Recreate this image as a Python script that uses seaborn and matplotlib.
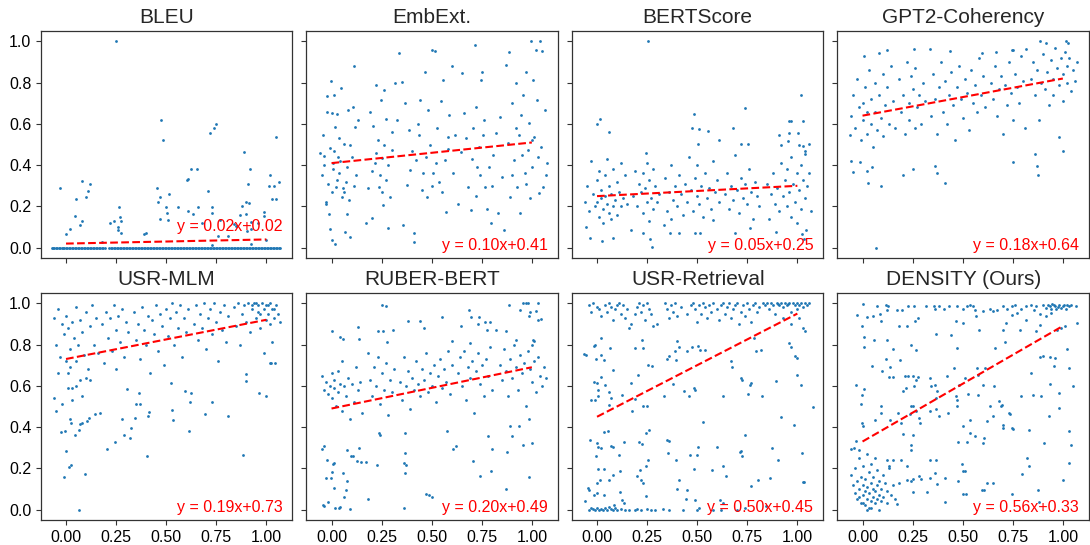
import matplotlib
matplotlib.use("Agg")
import matplotlib.pyplot as plt
import seaborn as sns
import pandas as pd

# panel titles and the fitted lines printed in each panel
titles = ['BLEU', 'EmbExt.', 'BERTScore', 'GPT2-Coherency',
          'USR-MLM', 'RUBER-BERT', 'USR-Retrieval', 'DENSITY (Ours)']
slopes = [0.02, 0.10, 0.05, 0.18, 0.19, 0.20, 0.50, 0.56]
intercepts = [0.02, 0.41, 0.25, 0.64, 0.73, 0.49, 0.45, 0.33]
x_ticks = [0.0, 0.25, 0.5, 0.75, 1.0]
y_ticks = [0.0, 0.2, 0.4, 0.6, 0.8, 1.0]

#%% points (x, y)
bleu_zero_x = [-0.07, -0.064, -0.058, -0.05, -0.044, -0.037, -0.03, -0.022, -0.015, -0.008,
               0.0, 0.007, 0.014, 0.021, 0.029, 0.036, 0.044, 0.051, 0.058, 0.066, 0.073,
               0.081, 0.088, 0.095, 0.103, 0.11, 0.118, 0.126, 0.133, 0.141, 0.148, 0.156,
               0.163, 0.171, 0.178, 0.186, 0.193, 0.215, 0.222, 0.23, 0.237, 0.245, 0.252,
               0.26, 0.267, 0.275, 0.282, 0.29, 0.297, 0.305, 0.312, 0.32, 0.327, 0.335,
               0.342, 0.35, 0.357, 0.365, 0.372, 0.38, 0.387, 0.395, 0.402, 0.41, 0.417,
               0.425, 0.432, 0.44, 0.447, 0.455, 0.462, 0.47, 0.477, 0.485, 0.492, 0.5,
               0.507, 0.515, 0.522, 0.53, 0.537, 0.545, 0.552, 0.56, 0.567, 0.575, 0.582,
               0.59, 0.597, 0.605, 0.612, 0.62, 0.627, 0.635, 0.642, 0.65, 0.657, 0.665,
               0.672, 0.68, 0.687, 0.695, 0.702, 0.71, 0.717, 0.725, 0.732, 0.74, 0.747,
               0.755, 0.762, 0.77, 0.777, 0.785, 0.792, 0.8, 0.807, 0.815, 0.822, 0.83,
               0.837, 0.845, 0.852, 0.86, 0.867, 0.875, 0.882, 0.89, 0.897, 0.905, 0.912,
               0.92, 0.927, 0.935, 0.942, 0.95, 0.957, 0.965, 0.972, 0.98, 0.987, 0.995,
               1.002, 1.01, 1.017, 1.025, 1.032, 1.04, 1.047, 1.055, 1.062, 1.07]
bleu_pts = [(-0.03, 0.29), (0.0, 0.065), (0.02, 0.09), (0.045, 0.155), (0.05, 0.235),
            (0.07, 0.11), (0.08, 0.325), (0.08, 0.13), (0.1, 0.245), (0.11, 0.275),
            (0.12, 0.31), (0.18, 0.03), (0.22, 0.12), (0.24, 0.13), (0.25, 1.0),
            (0.26, 0.1), (0.265, 0.195), (0.27, 0.15), (0.275, 0.13), (0.26, 0.085),
            (0.275, 0.07), (0.39, 0.065), (0.4, 0.07), (0.455, 0.29), (0.46, 0.22),
            (0.47, 0.245), (0.47, 0.14), (0.475, 0.62), (0.485, 0.52), (0.5, 0.195),
            (0.505, 0.17), (0.51, 0.135), (0.515, 0.26), (0.56, 0.195), (0.605, 0.33),
            (0.61, 0.335), (0.61, 0.18), (0.625, 0.38), (0.635, 0.165), (0.655, 0.38),
            (0.66, 0.195), (0.68, 0.12), (0.71, 0.275), (0.72, 0.555), (0.728, 0.195),
            (0.73, 0.17), (0.73, 0.015), (0.74, 0.58), (0.75, 0.6), (0.76, 0.055),
            (0.77, 0.135), (0.81, 0.055), (0.84, 0.115), (0.85, 0.105), (0.87, 0.16),
            (0.88, 0.2), (0.89, 0.465), (0.9, 0.22), (0.9, 0.165), (0.91, 0.31),
            (0.905, 0.08), (0.915, 0.215), (0.92, 0.38), (0.925, 0.125), (0.925, 0.09),
            (0.925, 0.02), (0.96, 0.12), (0.99, 0.175), (0.99, 0.155), (1.0, 0.035),
            (1.015, 0.3), (1.02, 0.35), (1.03, 0.235), (1.04, 0.3), (1.05, 0.535),
            (1.05, 0.235), (1.065, 0.32)]

embext_pts = [(-0.056, 0.46), (-0.05, 0.35), (-0.045, 0.545), (-0.036, 0.445), (-0.03, 0.22),
              (-0.03, 0.21), (-0.023, 0.733), (-0.023, 0.66), (-0.015, 0.165), (-0.01, 0.485),
              (-0.007, 0.09), (-0.003, 0.81), (0.0, 0.655), (0.003, 0.037), (0.005, 0.38),
              (0.008, 0.41), (0.013, 0.74), (0.017, 0.585), (0.018, 0.02), (0.02, 0.295),
              (0.026, 0.65), (0.03, 0.44), (0.035, 0.53), (0.038, 0.36), (0.046, 0.775),
              (0.05, 0.247), (0.055, 0.29), (0.063, 0.505), (0.068, 0.077), (0.071, 0.32),
              (0.076, 0.165), (0.083, 0.667), (0.088, 0.23), (0.093, 0.05), (0.1, 0.44),
              (0.107, 0.68), (0.112, 0.882), (0.116, 0.585), (0.124, 0.352), (0.13, 0.62),
              (-0.04, 0.4), (-0.02, 0.31), (0.0, 0.27), (0.01, 0.47), (0.025, 0.33),
              (0.04, 0.42), (0.06, 0.27), (0.075, 0.39), (0.09, 0.5), (0.11, 0.3),
              (0.17, 0.118), (0.182, 0.29), (0.19, 0.66), (0.2, 0.142), (0.208, 0.59),
              (0.215, 0.41), (0.223, 0.79), (0.23, 0.52), (0.238, 0.292), (0.245, 0.716),
              (0.253, 0.433), (0.258, 0.208), (0.264, 0.764), (0.27, 0.622), (0.274, 0.328),
              (0.283, 0.094), (0.29, 0.247), (0.302, 0.473), (0.319, 0.8), (0.337, 0.942),
              (0.327, 0.62), (0.2, 0.37), (0.22, 0.46), (0.24, 0.35), (0.26, 0.5),
              (0.28, 0.4), (0.3, 0.56), (0.25, 0.27),
              (0.352, 0.805), (0.357, 0.11), (0.368, 0.7), (0.377, 0.304), (0.385, 0.57),
              (0.393, 0.376), (0.41, 0.07), (0.413, 0.029), (0.423, 0.425), (0.435, 0.546),
              (0.443, 0.716), (0.456, 0.36), (0.468, 0.853), (0.476, 0.247), (0.484, 0.667),
              (0.493, 0.5), (0.5, 0.958), (0.509, 0.36), (0.517, 0.955), (0.526, 0.578),
              (0.534, 0.32), (0.545, 0.712), (0.555, 0.813), (0.564, 0.425), (0.572, 0.175),
              (0.579, 0.538), (0.588, 0.643), (0.6, 0.88), (0.608, 0.36), (0.617, 0.546),
              (0.4, 0.47), (0.45, 0.28), (0.47, 0.44), (0.52, 0.41), (0.55, 0.27),
              (0.58, 0.48), (0.43, 0.6), (0.5, 0.3),
              (0.633, 0.212), (0.645, 0.465), (0.65, 0.845), (0.661, 0.651), (0.671, 0.53),
              (0.683, 0.296), (0.694, 0.183), (0.704, 0.578), (0.716, 0.984), (0.721, 0.683),
              (0.727, 0.393), (0.737, 0.49), (0.745, 0.813), (0.749, 0.853), (0.757, 0.546),
              (0.765, 0.296), (0.774, 0.19), (0.787, 0.393), (0.798, 0.121), (0.807, 0.45),
              (0.82, 0.554), (0.831, 0.166), (0.84, 0.635), (0.853, 0.344), (0.86, 0.086),
              (0.873, 0.885), (0.886, 0.947), (0.7, 0.43), (0.74, 0.35), (0.76, 0.62),
              (0.8, 0.3), (0.72, 0.25),
              (0.881, 0.506), (0.893, 0.247), (0.902, 0.7), (0.909, 0.425), (0.919, 0.8),
              (0.926, 0.296), (0.936, 0.546), (0.939, 0.166), (0.947, 0.643), (0.955, 0.74),
              (0.964, 0.36), (0.972, 0.853), (0.98, 0.473), (0.985, 0.603), (0.992, 0.239),
              (0.997, 1.0), (1.002, 0.393), (1.008, 0.813), (1.013, 0.535), (1.021, 0.958),
              (1.025, 0.716), (1.035, 0.263), (1.041, 1.0), (1.046, 0.49), (1.051, 0.955),
              (1.058, 0.296), (1.068, 0.667), (1.071, 0.352), (1.074, 0.412), (0.9, 0.35),
              (0.95, 0.45), (0.97, 0.31), (1.0, 0.52), (1.03, 0.44), (0.92, 0.58)]

bertscore_pts = [(0.254, 1.0), (0.0, 0.6), (0.015, 0.622), (0.061, 0.562), (0.482, 0.648),
                 (0.474, 0.578), (0.507, 0.574), (0.556, 0.567), (0.741, 0.675), (0.677, 0.578),
                 (1.018, 0.74), (0.96, 0.615), (0.969, 0.615), (1.03, 0.615), (1.005, 0.554),
                 (0.96, 0.554), (0.908, 0.546), (0.721, 0.502), (0.754, 0.502), (0.502, 0.502),
                 (0.243, 0.457), (0.611, 0.522), (0.919, 0.498), (0.952, 0.519), (1.01, 0.498),
                 (1.06, 0.502), (1.04, 0.454), (1.03, 0.493),
                 (-0.054, 0.102), (-0.033, 0.048), (0.023, 0.034), (0.078, 0.048), (0.172, 0.086),
                 (0.231, 0.073), (0.276, 0.002), (0.262, 0.04), (0.333, 0.11), (0.366, 0.069),
                 (0.408, 0.069), (0.49, 0.069), (0.515, 0.069), (0.581, 0.134), (0.691, 0.069),
                 (0.766, 0.094), (0.894, 0.078), (1.023, 0.065), (1.035, 0.04), (1.043, 0.086),
                 (-0.06, 0.22), (-0.05, 0.3), (-0.04, 0.18), (-0.03, 0.42), (-0.02, 0.26),
                 (-0.01, 0.2), (0.0, 0.33), (0.0, 0.22), (0.01, 0.15), (0.01, 0.37),
                 (0.02, 0.24), (0.02, 0.28), (0.03, 0.19), (0.03, 0.12), (0.04, 0.35),
                 (0.04, 0.25), (0.05, 0.21), (0.05, 0.43), (0.06, 0.17), (0.06, 0.3),
                 (0.07, 0.14), (0.07, 0.26), (0.08, 0.38), (0.08, 0.2), (0.09, 0.23),
                 (0.1, 0.32), (0.1, 0.16), (0.11, 0.27), (0.12, 0.41), (0.12, 0.2),
                 (0.13, 0.24), (0.14, 0.35), (0.15, 0.21),
                 (0.18, 0.25), (0.19, 0.37), (0.2, 0.2), (0.21, 0.31), (0.22, 0.27),
                 (0.23, 0.36), (0.23, 0.17), (0.24, 0.29), (0.25, 0.22), (0.25, 0.41),
                 (0.26, 0.33), (0.26, 0.13), (0.27, 0.24), (0.28, 0.38), (0.28, 0.19),
                 (0.29, 0.3), (0.3, 0.22), (0.31, 0.26),
                 (0.34, 0.34), (0.35, 0.18), (0.36, 0.27), (0.37, 0.4), (0.37, 0.14),
                 (0.38, 0.23), (0.39, 0.3), (0.4, 0.2), (0.41, 0.35), (0.42, 0.26),
                 (0.43, 0.16), (0.44, 0.31), (0.45, 0.22), (0.46, 0.44), (0.47, 0.28),
                 (0.48, 0.18), (0.49, 0.34), (0.5, 0.25), (0.5, 0.4), (0.51, 0.21),
                 (0.52, 0.3), (0.53, 0.15), (0.54, 0.36), (0.55, 0.24), (0.56, 0.29),
                 (0.57, 0.19), (0.58, 0.42), (0.59, 0.27), (0.6, 0.33), (0.61, 0.22),
                 (0.64, 0.26), (0.65, 0.36), (0.66, 0.19), (0.67, 0.3), (0.68, 0.23),
                 (0.69, 0.45), (0.7, 0.28), (0.71, 0.17), (0.72, 0.34), (0.73, 0.24),
                 (0.74, 0.31), (0.75, 0.21), (0.76, 0.38), (0.77, 0.27), (0.78, 0.14),
                 (0.79, 0.32), (0.8, 0.25), (0.81, 0.2),
                 (0.85, 0.31), (0.86, 0.14), (0.87, 0.26), (0.88, 0.36), (0.89, 0.21),
                 (0.9, 0.29), (0.91, 0.18), (0.92, 0.41), (0.93, 0.25), (0.94, 0.33),
                 (0.95, 0.2), (0.95, 0.38), (0.96, 0.27), (0.97, 0.15), (0.97, 0.44),
                 (0.98, 0.31), (0.99, 0.22), (1.0, 0.36), (1.0, 0.12), (1.01, 0.28),
                 (1.02, 0.4), (1.02, 0.19), (1.03, 0.33), (1.04, 0.24), (1.04, 0.47),
                 (1.05, 0.3), (1.06, 0.36), (1.07, 0.18)]

gpt2_pts = [(0.066, 0.0), (0.091, 0.3), (0.028, 0.315), (0.203, 0.352), (0.251, 0.38),
            (0.41, 0.312), (0.372, 0.36), (0.364, 0.396), (0.876, 0.352), (0.871, 0.396),
            (0.86, 0.454), (0.752, 0.417), (1.0, 0.47), (0.983, 0.538), (-0.05, 0.368),
            (-0.058, 0.422), (-0.063, 0.546), (0.021, 0.373), (0.045, 0.393), (-0.012, 0.417),
            (0.884, 1.0), (1.017, 1.0), (1.025, 0.994), (0.914, 0.99), (0.664, 0.95),
            (0.744, 0.958), (0.752, 0.958), (0.818, 0.963), (0.595, 0.945), (0.438, 0.955),
            (0.336, 0.961), (0.256, 0.961), (0.124, 0.958), (0.083, 0.942), (0.005, 0.929),
            (-0.06, 0.64), (-0.05, 0.74), (-0.04, 0.58), (-0.03, 0.82), (-0.02, 0.68),
            (-0.01, 0.52), (0.0, 0.7), (0.0, 0.62), (0.01, 0.78), (0.02, 0.55),
            (0.02, 0.66), (0.03, 0.86), (0.04, 0.6), (0.04, 0.72), (0.05, 0.49),
            (0.06, 0.8), (0.06, 0.66), (0.07, 0.57), (0.08, 0.74), (0.09, 0.63),
            (0.1, 0.84), (0.1, 0.54), (0.11, 0.69), (0.12, 0.78), (0.13, 0.6),
            (0.14, 0.88), (0.15, 0.71), (0.16, 0.58),
            (0.18, 0.82), (0.19, 0.66), (0.2, 0.74), (0.21, 0.55), (0.22, 0.9),
            (0.23, 0.7), (0.23, 0.62), (0.24, 0.83), (0.25, 0.77), (0.26, 0.58),
            (0.26, 0.87), (0.27, 0.68), (0.28, 0.74), (0.29, 0.6), (0.3, 0.8),
            (0.31, 0.71),
            (0.34, 0.64), (0.35, 0.84), (0.36, 0.72), (0.37, 0.55), (0.38, 0.78),
            (0.39, 0.9), (0.4, 0.66), (0.41, 0.81), (0.42, 0.6), (0.43, 0.74),
            (0.44, 0.85), (0.45, 0.69), (0.46, 0.52), (0.47, 0.78), (0.48, 0.88),
            (0.49, 0.72), (0.5, 0.63), (0.51, 0.82), (0.52, 0.75), (0.53, 0.57),
            (0.54, 0.86), (0.55, 0.7), (0.56, 0.79), (0.57, 0.66), (0.58, 0.92),
            (0.59, 0.74), (0.6, 0.83), (0.61, 0.68),
            (0.64, 0.8), (0.65, 0.72), (0.66, 0.88), (0.67, 0.64), (0.68, 0.77),
            (0.69, 0.83), (0.7, 0.55), (0.71, 0.79), (0.72, 0.69), (0.73, 0.9),
            (0.74, 0.75), (0.75, 0.62), (0.76, 0.84), (0.77, 0.78), (0.78, 0.7),
            (0.79, 0.93), (0.8, 0.81), (0.81, 0.58),
            (0.84, 0.82), (0.85, 0.9), (0.86, 0.74), (0.87, 0.86), (0.88, 0.62),
            (0.89, 0.8), (0.9, 0.94), (0.91, 0.77), (0.92, 0.85), (0.93, 0.69),
            (0.94, 0.91), (0.95, 0.82), (0.95, 0.74), (0.96, 0.97), (0.97, 0.87),
            (0.98, 0.79), (0.99, 0.92), (1.0, 0.84), (1.0, 0.71), (1.01, 0.95),
            (1.02, 0.88), (1.02, 0.8), (1.03, 0.92), (1.04, 0.76), (1.05, 0.86),
            (1.06, 0.81), (1.07, 0.9)]

usrmlm_pts = [(0.063, 0.0), (-0.012, 0.159), (0.025, 0.214), (0.013, 0.207), (0.0, 0.283),
              (0.093, 0.175), (-0.025, 0.375), (-0.003, 0.38), (0.027, 0.42), (0.021, 0.44),
              (0.043, 0.364), (0.063, 0.388), (0.071, 0.413), (0.08, 0.421), (0.104, 0.429),
              (0.113, 0.445), (0.146, 0.461), (0.171, 0.469), (0.204, 0.294), (0.245, 0.327),
              (0.287, 0.361), (0.279, 0.437), (0.32, 0.345), (0.325, 0.396), (0.303, 0.583),
              (0.362, 0.566), (0.35, 0.51), (0.37, 0.51), (0.345, 0.445), (0.403, 0.262),
              (0.416, 0.472), (0.411, 0.456), (0.527, 0.485), (0.532, 0.434), (0.524, 0.615),
              (0.594, 0.574), (0.614, 0.383), (0.619, 0.521), (0.624, 0.563), (0.693, 0.464),
              (0.73, 0.521), (0.809, 0.453), (0.881, 0.267), (0.963, 0.566), (1.0, 0.55),
              (0.9, 0.623), (0.9, 0.655), (1.041, 0.712), (1.017, 0.712), (1.025, 0.709),
              (-0.06, 0.54), (-0.05, 0.48), (-0.04, 0.66), (-0.02, 0.51), (0.01, 0.59),
              (0.03, 0.53), (0.05, 0.6), (0.08, 0.55), (0.1, 0.64), (0.12, 0.63),
              (-0.06, 0.93), (-0.05, 0.8), (-0.04, 0.97), (-0.03, 0.74), (-0.02, 0.9),
              (-0.01, 0.85), (0.0, 0.72), (0.0, 0.94), (0.01, 0.66), (0.01, 0.88),
              (0.02, 0.78), (0.02, 0.69), (0.03, 0.91), (0.03, 0.59), (0.04, 0.83),
              (0.05, 0.98), (0.05, 0.72), (0.06, 0.8), (0.07, 0.63), (0.07, 0.92),
              (0.08, 0.86), (0.09, 0.75), (0.1, 0.96), (0.11, 0.68), (0.12, 0.89),
              (0.13, 0.99), (0.14, 0.8), (0.15, 0.93), (0.16, 0.76),
              (0.18, 0.9), (0.19, 0.71), (0.2, 0.96), (0.21, 0.83), (0.22, 0.93),
              (0.23, 0.77), (0.24, 0.99), (0.25, 0.87), (0.25, 0.68), (0.26, 0.94),
              (0.27, 0.81), (0.28, 0.97), (0.29, 0.74), (0.3, 0.91), (0.31, 0.86),
              (0.34, 0.96), (0.35, 0.82), (0.36, 0.9), (0.37, 0.73), (0.38, 0.98),
              (0.39, 0.87), (0.4, 0.8), (0.41, 0.94), (0.42, 0.66), (0.43, 0.92),
              (0.44, 0.85), (0.45, 0.99), (0.46, 0.77), (0.47, 0.95), (0.48, 0.89),
              (0.49, 0.7), (0.5, 0.97), (0.51, 0.84), (0.52, 0.93), (0.53, 1.0),
              (0.54, 0.8), (0.55, 0.96), (0.56, 0.88), (0.57, 0.99), (0.58, 0.74),
              (0.59, 0.93), (0.6, 0.86), (0.61, 0.97),
              (0.64, 0.9), (0.65, 0.99), (0.66, 0.82), (0.67, 0.95), (0.68, 0.88),
              (0.69, 1.0), (0.7, 0.78), (0.71, 0.93), (0.72, 0.97), (0.73, 0.85),
              (0.74, 1.0), (0.75, 0.91), (0.76, 0.72), (0.77, 0.96), (0.78, 0.87),
              (0.79, 0.99), (0.8, 0.81), (0.81, 0.94),
              (0.84, 0.98), (0.85, 0.89), (0.86, 1.0), (0.87, 0.8), (0.88, 0.95),
              (0.89, 0.99), (0.9, 0.91), (0.91, 1.0), (0.92, 0.86), (0.93, 0.97),
              (0.94, 1.0), (0.95, 0.93), (0.96, 0.99), (0.97, 0.95), (0.97, 0.88),
              (0.98, 1.0), (0.99, 0.97), (1.0, 0.92), (1.0, 0.99), (1.01, 0.95),
              (1.02, 1.0), (1.02, 0.9), (1.03, 0.97), (1.04, 0.93), (1.05, 0.99),
              (1.06, 0.95), (1.07, 0.91), (1.03, 0.81), (0.99, 0.76), (0.95, 1.0),
              (0.96, 0.96), (1.01, 0.99), (0.93, 0.99), (1.04, 0.97)]

ruber_pts = [(-0.045, 0.024), (-0.036, 0.019), (-0.02, 0.036), (0.018, 0.008), (0.035, 0.008),
             (0.043, 0.011), (0.093, 0.003), (0.063, 0.061), (0.071, 0.097), (0.013, 0.105),
             (0.076, 0.137), (0.055, 0.178), (-0.003, 0.153), (-0.028, 0.153), (0.002, 0.181),
             (0.005, 0.223), (0.01, 0.226), (-0.023, 0.242), (-0.048, 0.296), (-0.036, 0.307),
             (0.079, 0.288), (0.099, 0.258), (0.107, 0.258), (0.137, 0.299), (0.129, 0.234),
             (0.149, 0.229), (0.17, 0.229), (0.228, 0.215), (0.182, 0.052), (0.236, 0.372),
             (0.241, 0.363), (0.36, 0.008), (0.369, 0.178), (0.36, 0.226), (0.374, 0.218),
             (0.369, 0.275), (0.369, 0.372), (0.471, 0.076), (0.488, 0.073), (0.504, 0.061),
             (0.575, 0.38), (0.607, 0.294), (0.623, 0.307), (0.704, 0.237), (0.74, 0.162),
             (0.782, 0.355), (0.795, 0.186), (0.802, 0.296), (0.876, 0.278), (0.873, 0.1),
             (0.902, 0.359), (0.955, 0.315), (0.985, 0.158), (1.002, 0.323), (0.889, 0.407),
             (0.936, 0.404), (0.988, 0.439),
             (0.253, 0.994), (0.273, 0.985), (0.0, 0.868), (0.043, 0.837), (0.055, 0.829),
             (0.132, 0.885), (0.137, 0.829), (0.233, 0.868), (0.258, 0.868), (0.278, 0.813),
             (0.306, 0.872), (0.38, 0.913), (0.443, 0.913), (0.463, 0.88), (0.55, 0.934),
             (0.686, 0.966), (0.694, 0.934), (0.732, 0.901), (0.737, 0.934), (0.765, 0.91),
             (0.793, 0.91), (0.884, 0.994), (0.939, 0.969), (0.955, 1.0), (0.972, 1.0),
             (0.98, 1.0), (1.03, 1.0), (1.021, 0.961), (1.03, 0.921), (1.046, 0.924),
             (0.985, 0.937), (0.992, 0.956), (1.005, 0.824), (1.013, 0.816), (0.922, 0.824),
             (0.873, 0.864), (0.823, 0.872), (0.774, 0.872), (0.646, 0.888), (0.6, 0.816),
             (0.691, 0.808),
             (-0.05, 0.65), (-0.04, 0.58), (-0.03, 0.62), (-0.02, 0.56), (-0.01, 0.6),
             (0.0, 0.66), (0.0, 0.54), (0.01, 0.59), (0.01, 0.63), (0.02, 0.5),
             (0.03, 0.67), (0.03, 0.57), (0.04, 0.61), (0.05, 0.72), (0.05, 0.48),
             (0.06, 0.6), (0.07, 0.55), (0.08, 0.64), (0.09, 0.44), (0.1, 0.61),
             (0.11, 0.52), (0.12, 0.69), (0.13, 0.58), (0.14, 0.62), (0.15, 0.47),
             (0.18, 0.76), (0.19, 0.63), (0.2, 0.55), (0.21, 0.69), (0.22, 0.6),
             (0.23, 0.74), (0.24, 0.51), (0.25, 0.66), (0.26, 0.58), (0.27, 0.71),
             (0.28, 0.46), (0.29, 0.63), (0.3, 0.57), (0.31, 0.68),
             (0.34, 0.62), (0.35, 0.53), (0.36, 0.74), (0.37, 0.6), (0.38, 0.67),
             (0.39, 0.49), (0.4, 0.64), (0.41, 0.58), (0.42, 0.72), (0.43, 0.61),
             (0.44, 0.55), (0.45, 0.68), (0.46, 0.63), (0.47, 0.76), (0.48, 0.57),
             (0.49, 0.66), (0.5, 0.6), (0.51, 0.7), (0.52, 0.52), (0.53, 0.65),
             (0.54, 0.73), (0.55, 0.59), (0.56, 0.68), (0.57, 0.62), (0.58, 0.77),
             (0.59, 0.56), (0.6, 0.7),
             (0.63, 0.66), (0.64, 0.74), (0.65, 0.6), (0.66, 0.77), (0.67, 0.53),
             (0.68, 0.69), (0.69, 0.64), (0.7, 0.72), (0.71, 0.47), (0.72, 0.67),
             (0.73, 0.76), (0.74, 0.61), (0.75, 0.7), (0.76, 0.55), (0.77, 0.73),
             (0.78, 0.65), (0.79, 0.79), (0.8, 0.58),
             (0.84, 0.7), (0.85, 0.63), (0.86, 0.78), (0.87, 0.67), (0.88, 0.55),
             (0.89, 0.73), (0.9, 0.64), (0.91, 0.8), (0.92, 0.69), (0.93, 0.58),
             (0.94, 0.75), (0.95, 0.66), (0.96, 0.71), (0.97, 0.5), (0.98, 0.77),
             (0.99, 0.68), (1.0, 0.62), (1.0, 0.8), (1.01, 0.72), (1.02, 0.57),
             (1.03, 0.74), (1.04, 0.65), (1.05, 0.6), (1.06, 0.69), (1.07, 0.64)]

retrieval_pts = [(-0.04, 0.99), (-0.03, 0.96), (-0.02, 1.0), (0.0, 0.98), (0.01, 0.97),
                 (0.02, 0.94), (0.04, 0.99), (0.05, 0.96), (0.06, 1.0), (0.07, 0.98),
                 (0.08, 0.92), (0.09, 0.97), (0.1, 0.99), (0.11, 1.0), (0.12, 0.95),
                 (0.13, 0.99), (0.14, 0.93), (0.15, 0.97), (0.16, 0.88), (0.17, 0.9),
                 (0.19, 0.95), (0.2, 0.98), (0.21, 1.0), (0.22, 0.96), (0.23, 0.99),
                 (0.24, 0.92), (0.25, 1.0), (0.26, 0.97), (0.27, 0.95), (0.28, 0.89),
                 (0.3, 0.9), (0.34, 1.0), (0.35, 0.97), (0.36, 0.93), (0.37, 0.99),
                 (0.38, 0.96), (0.39, 1.0), (0.4, 0.94), (0.42, 0.98), (0.45, 0.95),
                 (0.47, 0.99), (0.48, 1.0), (0.49, 0.97), (0.5, 0.91), (0.51, 0.99),
                 (0.52, 0.95), (0.53, 1.0), (0.54, 0.98), (0.55, 0.93), (0.56, 0.99),
                 (0.57, 0.96), (0.58, 1.0), (0.6, 0.97), (0.61, 0.92), (0.62, 0.99),
                 (0.63, 1.0), (0.64, 0.95), (0.65, 0.98), (0.66, 1.0), (0.67, 0.93),
                 (0.68, 0.97), (0.69, 0.99), (0.7, 1.0), (0.71, 0.9), (0.72, 0.96),
                 (0.73, 0.99), (0.74, 0.94), (0.75, 1.0), (0.76, 0.97), (0.77, 0.91),
                 (0.78, 0.99), (0.79, 1.0), (0.8, 0.96), (0.81, 0.98), (0.83, 1.0),
                 (0.84, 0.99), (0.85, 1.0), (0.86, 0.97), (0.87, 1.0), (0.88, 0.99),
                 (0.89, 0.95), (0.9, 1.0), (0.91, 0.99), (0.92, 1.0), (0.93, 0.98),
                 (0.94, 1.0), (0.95, 0.99), (0.96, 1.0), (0.97, 0.96), (0.98, 1.0),
                 (0.99, 0.99), (1.0, 1.0), (1.0, 0.97), (1.01, 0.99), (1.02, 1.0),
                 (1.03, 0.98), (1.04, 1.0), (1.05, 0.99), (1.06, 1.0), (0.93, 0.93),
                 (0.97, 0.9), (1.01, 0.93), (1.03, 0.88), (0.905, 0.995), (0.955, 0.995),
                 (-0.054, 0.751), (-0.063, 0.756), (-0.008, 0.8), (-0.013, 0.792), (0.02, 0.832),
                 (-0.003, 0.732), (0.02, 0.75), (0.033, 0.724), (0.066, 0.784), (0.078, 0.679),
                 (0.02, 0.641), (-0.013, 0.617), (0.0, 0.614), (0.003, 0.582), (0.041, 0.606),
                 (-0.03, 0.533), (-0.008, 0.533), (0.003, 0.549), (0.061, 0.569), (0.069, 0.541),
                 (0.058, 0.509), (0.127, 0.557), (0.172, 0.614), (0.205, 0.654), (0.173, 0.477),
                 (0.231, 0.501), (0.248, 0.501), (0.188, 0.536), (0.188, 0.784), (0.231, 0.784),
                 (0.226, 0.824), (0.256, 0.703), (0.272, 0.698), (0.333, 0.549), (0.38, 0.611),
                 (0.399, 0.819), (0.411, 0.787), (0.391, 0.767), (0.358, 0.746), (0.347, 0.73),
                 (0.394, 0.727), (0.449, 0.767), (0.474, 0.788), (0.503, 0.792), (0.515, 0.772),
                 (0.54, 0.772), (0.432, 0.574), (0.457, 0.549), (0.482, 0.59), (0.49, 0.578),
                 (0.63, 0.549), (0.667, 0.719), (0.673, 0.691), (0.721, 0.638), (0.726, 0.627),
                 (0.754, 0.562), (0.762, 0.606), (0.77, 0.614), (0.782, 0.832), (0.795, 0.767),
                 (0.82, 0.772), (0.891, 0.622), (0.825, 0.549), (0.96, 0.808), (0.969, 0.788),
                 (0.99, 0.746), (0.997, 0.735), (0.998, 0.654), (1.018, 0.606), (1.038, 0.864),
                 (1.076, 0.498), (0.919, 0.449), (0.985, 0.412), (0.903, 0.242), (1.023, 0.275),
                 (0.861, 0.153), (0.804, 0.145), (0.721, 0.283), (0.713, 0.278), (0.738, 0.363),
                 (0.726, 0.258), (0.875, 0.299), (0.767, 0.116), (0.627, 0.213), (0.644, 0.162),
                 (0.601, 0.302), (0.573, 0.192), (0.482, 0.197), (0.465, 0.267), (0.503, 0.304),
                 (0.498, 0.267), (0.528, 0.423), (0.393, 0.239), (0.355, 0.275), (0.347, 0.336),
                 (0.359, 0.331), (0.411, 0.145), (0.399, 0.1), (0.449, 0.097), (0.446, 0.052),
                 (0.49, 0.045), (0.507, 0.008), (0.614, 0.048), (0.63, 0.032), (0.738, 0.008),
                 (0.842, 0.016), (1.035, 0.132), (1.026, 0.132), (0.256, 0.239), (0.243, 0.213),
                 (0.218, 0.142), (0.231, 0.129), (0.243, 0.065), (0.259, 0.384), (0.243, 0.372),
                 (0.21, 0.326), (0.223, 0.318), (0.213, 0.191), (0.198, 0.162), (0.111, 0.267),
                 (0.116, 0.186), (0.135, 0.326), (0.078, 0.302), (0.069, 0.307), (0.033, 0.376),
                 (0.053, 0.38), (0.0, 0.323), (0.003, 0.304), (0.02, 0.299), (-0.005, 0.258),
                 (-0.033, 0.339), (0.007, 0.197), (0.036, 0.197), (0.017, 0.145), (0.061, 0.142),
                 (0.078, 0.17), (0.0, 0.129), (-0.043, 0.105), (-0.038, 0.094), (-0.017, 0.073),
                 (0.0, 0.081), (0.033, 0.073), (0.116, 0.084), (0.127, 0.045), (0.135, 0.032),
                 (0.083, 0.024),
                 (-0.06, 0.04), (-0.04, 0.0), (-0.03, 0.01), (-0.02, 0.005), (-0.01, 0.0),
                 (0.0, 0.01), (0.01, 0.0), (0.02, 0.005), (0.03, 0.0), (0.04, 0.01),
                 (0.05, 0.0), (0.06, 0.015), (0.07, 0.005), (0.08, 0.0), (0.09, 0.01),
                 (0.1, 0.0), (0.12, 0.005), (0.14, 0.0), (0.16, 0.0), (0.19, 0.0),
                 (0.2, 0.005), (0.22, 0.0), (0.25, 0.005), (0.27, 0.0), (0.29, 0.0),
                 (0.33, 0.005), (0.36, 0.0), (0.43, 0.0), (0.5, 0.0), (0.58, 0.0),
                 (0.62, 0.0), (0.7, 0.0)]

density_pts = [(0.0, 0.997), (-0.028, 0.945), (-0.003, 0.889), (0.021, 0.934), (0.05, 0.937),
               (0.074, 0.989), (0.088, 0.95), (0.091, 0.913), (0.116, 0.994), (0.127, 0.989),
               (0.121, 0.969), (0.17, 0.969), (0.198, 0.966), (0.228, 0.989), (0.22, 0.889),
               (0.256, 0.989), (0.276, 0.929), (0.264, 0.913), (0.319, 0.989), (0.355, 0.989),
               (0.364, 0.973), (0.38, 0.989), (0.405, 0.973), (0.43, 0.985), (0.471, 0.989),
               (0.468, 0.913), (0.504, 0.973), (0.521, 0.985), (0.537, 0.994), (0.55, 0.989),
               (0.562, 0.969), (0.567, 0.937), (0.603, 0.961), (0.636, 0.973), (0.653, 0.961),
               (0.702, 0.989), (0.719, 0.973), (0.744, 0.985), (0.76, 0.994), (0.769, 0.953),
               (0.793, 0.973), (0.818, 0.989), (0.843, 0.994), (0.855, 0.966), (0.868, 0.985),
               (0.884, 0.95), (0.901, 0.994), (0.917, 0.977), (0.934, 0.989), (0.947, 0.998),
               (0.959, 0.985), (0.967, 0.973), (0.98, 0.994), (0.992, 0.977), (1.0, 0.985),
               (1.008, 0.994), (1.017, 0.973), (1.03, 0.985), (1.041, 0.994), (1.066, 0.985),
               (1.071, 0.905), (1.013, 0.889), (0.992, 0.88), (0.97, 0.872), (0.942, 0.953),
               (0.917, 0.937), (0.884, 0.897), (0.868, 0.864), (0.815, 0.921), (0.788, 0.872),
               (0.744, 0.945), (0.716, 0.905), (0.702, 0.872), (0.669, 0.969), (0.661, 0.784),
               (0.711, 0.811), (0.504, 0.905), (0.579, 0.872), (0.474, 0.784), (0.441, 0.848),
               (0.369, 0.853), (0.269, 0.775), (0.24, 0.8), (0.182, 0.892), (0.154, 0.779),
               (0.124, 0.824), (0.058, 0.824), (0.008, 0.788), (0.008, 0.837), (0.925, 0.99),
               (0.955, 0.99), (0.975, 0.98), (1.02, 0.99), (0.94, 0.97),
               (0.046, 0.698), (0.099, 0.674), (0.137, 0.69), (0.116, 0.73), (0.187, 0.727),
               (0.132, 0.643), (0.154, 0.643), (0.21, 0.649), (0.226, 0.649), (0.253, 0.649),
               (0.276, 0.643), (0.215, 0.59), (0.203, 0.573), (0.256, 0.598), (0.269, 0.627),
               (0.24, 0.501), (0.253, 0.501), (0.281, 0.444), (0.289, 0.42), (0.269, 0.477),
               (0.236, 0.465), (0.193, 0.42), (0.203, 0.368), (0.253, 0.363), (0.24, 0.315),
               (0.243, 0.288), (0.179, 0.468), (0.137, 0.436), (0.091, 0.501), (0.091, 0.468),
               (0.061, 0.436), (-0.005, 0.557), (-0.008, 0.514), (-0.033, 0.606), (0.005, 0.585),
               (-0.003, 0.42), (0.0, 0.404), (-0.045, 0.299), (-0.058, 0.294), (-0.033, 0.331),
               (-0.017, 0.291), (0.344, 0.601), (0.336, 0.638), (0.364, 0.606), (0.372, 0.573),
               (0.369, 0.541), (0.369, 0.488), (0.336, 0.477), (0.38, 0.452), (0.421, 0.646),
               (0.425, 0.468), (0.455, 0.687), (0.468, 0.549), (0.471, 0.533), (0.474, 0.501),
               (0.484, 0.606), (0.512, 0.638), (0.524, 0.562), (0.57, 0.687), (0.574, 0.654),
               (0.574, 0.557), (0.6, 0.606), (0.612, 0.687), (0.656, 0.598), (0.683, 0.525),
               (0.694, 0.509), (0.689, 0.504), (0.636, 0.501), (0.653, 0.456), (0.62, 0.428),
               (0.534, 0.436), (0.537, 0.372), (0.562, 0.359), (0.479, 0.326), (0.501, 0.404),
               (0.521, 0.326), (0.6, 0.323), (0.605, 0.347), (0.699, 0.412), (0.702, 0.396),
               (0.732, 0.468), (0.736, 0.464), (0.744, 0.396), (0.752, 0.393), (0.79, 0.549),
               (0.831, 0.388), (0.843, 0.662), (0.851, 0.557), (0.893, 0.552), (0.901, 0.743),
               (0.884, 0.74), (0.934, 0.74), (0.959, 0.735), (0.954, 0.695), (0.934, 0.611),
               (0.931, 0.452), (0.98, 0.493), (0.983, 0.565), (1.021, 0.779), (1.03, 0.687),
               (1.05, 0.598), (1.033, 0.38), (1.041, 0.315), (0.906, 0.323), (0.821, 0.25),
               (0.831, 0.21), (0.798, 0.174), (0.876, 0.094), (0.881, 0.036), (1.0, 0.142),
               (1.03, 0.226), (0.744, 0.078), (0.623, 0.129), (0.653, 0.129), (0.595, 0.097),
               (0.607, 0.097), (0.496, 0.223), (0.504, 0.186), (0.512, 0.186), (0.479, 0.137),
               (0.501, 0.076), (0.517, 0.078), (0.413, 0.036), (0.413, 0.153), (0.369, 0.242),
               (0.339, 0.242), (0.364, 0.178), (0.372, 0.124), (0.336, 0.153), (0.322, 0.084),
               (0.293, 0.149), (0.281, 0.165), (0.253, 0.149), (0.223, 0.145), (0.22, 0.213),
               (0.24, 0.137), (0.253, 0.084), (0.182, 0.129), (0.17, 0.029), (0.193, 0.239),
               (0.154, 0.239), (0.124, 0.239), (0.132, 0.202),
               (-0.06, 0.17), (-0.05, 0.12), (-0.04, 0.08), (-0.04, 0.2), (-0.03, 0.14),
               (-0.03, 0.05), (-0.02, 0.1), (-0.02, 0.25), (-0.01, 0.03), (-0.01, 0.16),
               (0.0, 0.07), (0.0, 0.12), (0.0, 0.21), (0.01, 0.02), (0.01, 0.09),
               (0.01, 0.15), (0.02, 0.05), (0.02, 0.11), (0.02, 0.27), (0.03, 0.01),
               (0.03, 0.08), (0.03, 0.18), (0.04, 0.04), (0.04, 0.13), (0.04, 0.22),
               (0.05, 0.06), (0.05, 0.1), (0.05, 0.16), (0.06, 0.03), (0.06, 0.09),
               (0.06, 0.25), (0.07, 0.05), (0.07, 0.12), (0.07, 0.19), (0.08, 0.0),
               (0.08, 0.07), (0.08, 0.14), (0.09, 0.04), (0.09, 0.1), (0.1, 0.17),
               (0.1, 0.06), (0.11, 0.13), (0.12, 0.03), (0.12, 0.09), (0.13, 0.21),
               (0.14, 0.07), (0.15, 0.12), (0.16, 0.05), (0.0, 0.03), (-0.02, 0.06),
               (0.02, 0.0), (0.04, 0.01)]

# where the equation sits in each panel (axes fraction, from the picture)
label_y = [0.105, 0.02, 0.02, 0.02, 0.02, 0.02, 0.02, 0.02]

#%%
def to_frame(pts):
    df = pd.DataFrame(pts, columns=['x', 'y'])
    return df

panels = [to_frame(bleu_pts + [(v, 0.0) for v in bleu_zero_x]),
          to_frame(embext_pts), to_frame(bertscore_pts), to_frame(gpt2_pts),
          to_frame(usrmlm_pts), to_frame(ruber_pts), to_frame(retrieval_pts),
          to_frame(density_pts)]

sns.set_style('ticks')
plt.rcParams['font.family'] = ['Liberation Sans', 'DejaVu Sans']
plt.rcParams['axes.edgecolor'] = '0.2'
plt.rcParams['xtick.color'] = '0.2'
plt.rcParams['ytick.color'] = '0.2'
plt.rcParams['xtick.labelcolor'] = 'black'
plt.rcParams['ytick.labelcolor'] = 'black'

fig, axes = plt.subplots(2, 4, figsize=(10.9, 5.45), dpi=100, sharex=True, sharey=True)
fig.subplots_adjust(left=0.0376, right=0.999, top=0.943, bottom=0.046,
                    wspace=0.056, hspace=0.154)

for i, ax in enumerate(axes.flat):
    data = panels[i]
    sns.scatterplot(x='x', y='y', data=data, ax=ax, s=4, linewidth=0,
                    color='#1f77b4', legend=False)
    a, b = slopes[i], intercepts[i]
    line_x = [x_ticks[0], x_ticks[-1]]
    ax.plot(line_x, [a * v + b for v in line_x], color='red', ls='--', lw=1.5)
    ax.text(0.96, label_y[i], 'y = {:.2f}x+{:.2f}'.format(a, b), color='red',
            fontsize=11.5, ha='right', va='bottom', transform=ax.transAxes)
    ax.set_title(titles[i], fontsize=15)
    ax.set_xlabel('')
    ax.set_ylabel('')
    for s in ax.spines.values():
        s.set_visible(True)
        s.set_linewidth(0.9)

ax0 = axes[0, 0]
ax0.set_xticks(x_ticks)
ax0.set_yticks(y_ticks)
ax0.set_xticklabels(['{:.2f}'.format(v) for v in x_ticks])
ax0.set_yticklabels(['{:.1f}'.format(v) for v in y_ticks])
ax0.set_xlim(-0.125, 1.13)
ax0.set_ylim(-0.05, 1.05)
for ax in axes.flat:
    ax.tick_params(labelsize=11.5, length=3.5, width=0.8)

fig.savefig('out.png', dpi=100)
